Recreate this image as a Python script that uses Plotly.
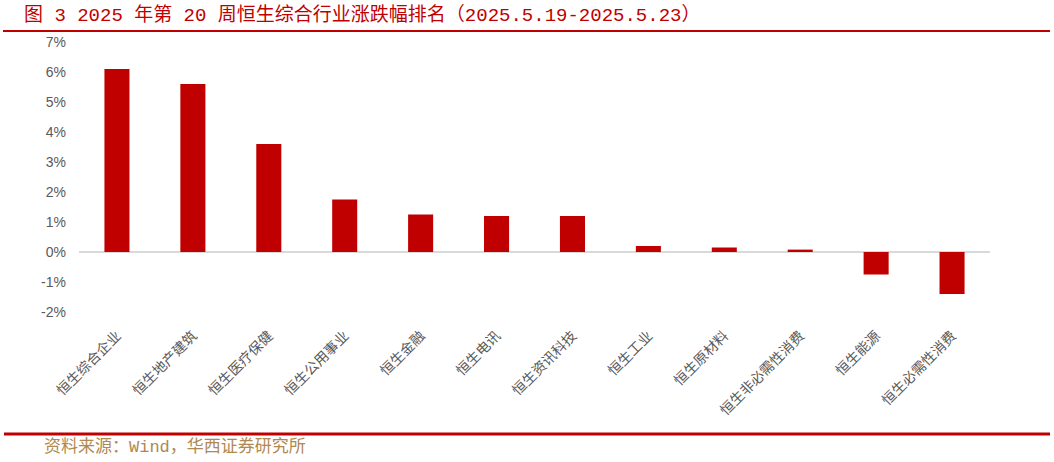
import plotly.graph_objects as go

categories = ["恒生综合企业", "恒生地产建筑", "恒生医疗保健", "恒生公用事业", "恒生金融", "恒生电讯",
              "恒生资讯科技", "恒生工业", "恒生原材料", "恒生非必需性消费", "恒生能源", "恒生必需性消费"]
values = [6.1, 5.6, 3.6, 1.75, 1.25, 1.2, 1.2, 0.2, 0.15, 0.08, -0.75, -1.4]
tick_vals = [-2, -1, 0, 1, 2, 3, 4, 5, 6, 7]
tick_text = ["-2%", "-1%", "0%", "1%", "2%", "3%", "4%", "5%", "6%", "7%"]

title_text = "图 3 2025 年第 20 周恒生综合行业涨跌幅排名（2025.5.19-2025.5.23）"
source_text = "资料来源：Wind，华西证券研究所"

fig = go.Figure(go.Bar(x=categories, y=values, marker=dict(color="#C00000", line=dict(width=0)),
                       width=0.33))

fig.update_layout(
    width=1054, height=462,
    margin=dict(l=79, r=64, t=42, b=150),
    paper_bgcolor="white", plot_bgcolor="white",
    showlegend=False,
    font=dict(family="Noto Sans CJK SC", color="#595959"),
    xaxis=dict(tickangle=-45, tickfont=dict(size=14, color="#595959"), showline=False,
               showgrid=False, ticks="", ticklabelstandoff=12),
    yaxis=dict(range=[-2, 7], tickvals=tick_vals, ticktext=tick_text, showgrid=False,
               zeroline=True, zerolinecolor="#D9D9D9", zerolinewidth=1.5,
               tickfont=dict(size=14, color="#595959", family="Liberation Sans Narrow, Liberation Sans"),
               ticks="", showline=False, ticklabelstandoff=12),
    shapes=[
        dict(type="line", xref="paper", yref="paper", x0=-76/911, x1=(1050-79)/911,
             y0=(462-150-31)/270, y1=(462-150-31)/270, line=dict(color="#C00000", width=2)),
        dict(type="line", xref="paper", yref="paper", x0=-75/911, x1=(1050-79)/911,
             y0=(462-150-434)/270, y1=(462-150-434)/270, line=dict(color="#C00000", width=3)),
    ],
    annotations=[
        dict(text=title_text, xref="paper", yref="paper", x=-57/911, y=(462-150-16)/270,
             xanchor="left", yanchor="middle", showarrow=False,
             font=dict(size=19, color="#C00000", family="Liberation Mono, Noto Sans CJK SC")),
        dict(text=source_text, xref="paper", yref="paper", x=-37/911, y=(462-150-447)/270,
             xanchor="left", yanchor="middle", showarrow=False,
             font=dict(size=17, color="#B08850", family="Liberation Mono, Noto Sans CJK SC")),
    ],
)

fig.write_html("out.html", post_script="document.body.style.margin='0';",
               config={"displayModeBar": False})
